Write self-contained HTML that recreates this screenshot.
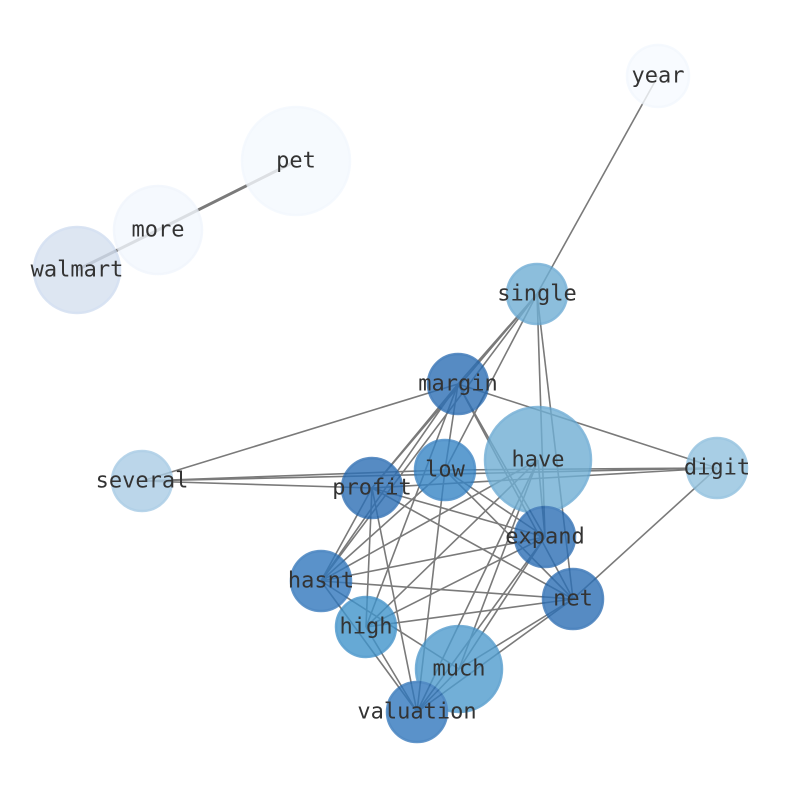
<!DOCTYPE html>
<html><head><meta charset="utf-8"><style>html,body{margin:0;padding:0;background:#fff}svg{display:block}</style></head>
<body>
<svg width="794" height="790" xmlns="http://www.w3.org/2000/svg">
<g stroke="#7a7a7a" stroke-width="1.6" fill="none">
<line x1="658" y1="76" x2="537" y2="294"/>
<line x1="296" y1="161" x2="158" y2="230" stroke-width="3"/>
<line x1="158" y1="230" x2="77" y2="270" stroke-width="3"/>
<line x1="537" y1="294" x2="458" y2="384"/>
<line x1="537" y1="294" x2="459" y2="386"/>
<line x1="537" y1="294" x2="372" y2="488"/>
<line x1="537" y1="294" x2="445" y2="470"/>
<line x1="537" y1="294" x2="545" y2="537"/>
<line x1="537" y1="294" x2="573" y2="599"/>
<line x1="537" y1="294" x2="321" y2="581"/>
<line x1="458" y1="384" x2="142" y2="481"/>
<line x1="458" y1="384" x2="717" y2="468"/>
<line x1="458" y1="384" x2="372" y2="488"/>
<line x1="458" y1="384" x2="445" y2="470"/>
<line x1="458" y1="384" x2="321" y2="581"/>
<line x1="458" y1="384" x2="366" y2="627"/>
<line x1="458" y1="384" x2="545" y2="537"/>
<line x1="458" y1="384" x2="573" y2="599"/>
<line x1="142" y1="481" x2="445" y2="470"/>
<line x1="142" y1="481" x2="372" y2="488"/>
<line x1="142" y1="481" x2="717" y2="468"/>
<line x1="372" y1="488" x2="717" y2="468"/>
<line x1="445" y1="470" x2="717" y2="468"/>
<line x1="573" y1="599" x2="717" y2="468"/>
<line x1="538" y1="460" x2="321" y2="581"/>
<line x1="538" y1="460" x2="366" y2="627"/>
<line x1="538" y1="460" x2="459" y2="669"/>
<line x1="538" y1="460" x2="417" y2="712"/>
<line x1="538" y1="460" x2="545" y2="537"/>
<line x1="372" y1="488" x2="545" y2="537"/>
<line x1="372" y1="488" x2="573" y2="599"/>
<line x1="372" y1="488" x2="321" y2="581"/>
<line x1="372" y1="488" x2="366" y2="627"/>
<line x1="372" y1="488" x2="417" y2="712"/>
<line x1="445" y1="470" x2="545" y2="537"/>
<line x1="445" y1="470" x2="573" y2="599"/>
<line x1="445" y1="470" x2="417" y2="712"/>
<line x1="445" y1="470" x2="321" y2="581"/>
<line x1="321" y1="581" x2="545" y2="537"/>
<line x1="321" y1="581" x2="573" y2="599"/>
<line x1="321" y1="581" x2="417" y2="712"/>
<line x1="321" y1="581" x2="459" y2="669"/>
<line x1="366" y1="627" x2="573" y2="599"/>
<line x1="366" y1="627" x2="545" y2="537"/>
<line x1="366" y1="627" x2="417" y2="712"/>
<line x1="545" y1="537" x2="459" y2="669"/>
<line x1="545" y1="537" x2="417" y2="712"/>
<line x1="573" y1="599" x2="459" y2="669"/>
<line x1="573" y1="599" x2="417" y2="712"/>
<line x1="459" y1="669" x2="417" y2="712"/>
</g>
<g opacity="0.8" stroke-width="2.5" stroke-opacity="0.9">
<circle cx="658" cy="76" r="31" fill="#f7fbff" stroke="#f1f6fd"/>
<circle cx="296" cy="161" r="54" fill="#f5f9fe" stroke="#f1f6fd"/>
<circle cx="158" cy="230" r="44" fill="#f3f8fe" stroke="#eef4fc"/>
<circle cx="77" cy="270" r="43" fill="#d5e0f0" stroke="#cbd9ee"/>
<circle cx="537" cy="294" r="30" fill="#70afd4" stroke="#5fa3cf"/>
<circle cx="458" cy="384" r="30" fill="#2c6fb5" stroke="#1f64ad"/>
<circle cx="142" cy="481" r="30" fill="#abcde5" stroke="#9cc4e1"/>
<circle cx="538" cy="460" r="53" fill="#70afd4" stroke="#5fa3cf"/>
<circle cx="445" cy="470" r="30" fill="#3785c5" stroke="#2a79be"/>
<circle cx="717" cy="468" r="30" fill="#93c3df" stroke="#84b9da"/>
<circle cx="372" cy="488" r="30" fill="#2c6fb5" stroke="#1f64ad"/>
<circle cx="545" cy="537" r="30" fill="#2c6fb5" stroke="#1f64ad"/>
<circle cx="321" cy="581" r="30" fill="#3178bd" stroke="#266db5"/>
<circle cx="573" cy="599" r="30" fill="#2c6fb5" stroke="#1f64ad"/>
<circle cx="366" cy="627" r="30" fill="#4094cb" stroke="#3388c4"/>
<circle cx="459" cy="669" r="43" fill="#4f9cce" stroke="#4291c8"/>
<circle cx="417" cy="712" r="30" fill="#3178bd" stroke="#266db5"/>
</g>
<g font-family="'DejaVu Sans Mono','Liberation Mono',monospace" font-size="22" fill="#333" text-anchor="middle" dominant-baseline="central">
<text x="658" y="76">year</text>
<text x="296" y="161">pet</text>
<text x="158" y="230">more</text>
<text x="77" y="270">walmart</text>
<text x="537" y="294">single</text>
<text x="458" y="384">margin</text>
<text x="142" y="481">several</text>
<text x="538" y="460">have</text>
<text x="445" y="470">low</text>
<text x="717" y="468">digit</text>
<text x="372" y="488">profit</text>
<text x="545" y="537">expand</text>
<text x="321" y="581">hasnt</text>
<text x="573" y="599">net</text>
<text x="366" y="627">high</text>
<text x="459" y="669">much</text>
<text x="417" y="712">valuation</text>
</g>
</svg>
</body></html>
